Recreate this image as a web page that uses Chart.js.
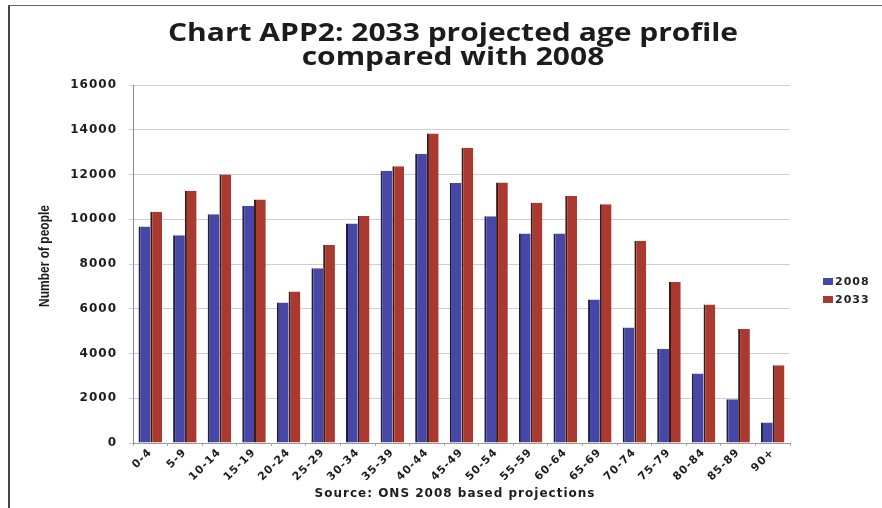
<!DOCTYPE html>
<html>
<head>
<meta charset="utf-8">
<script src="https://cdn.jsdelivr.net/npm/chart.js@4"></script>
<style>
  body { margin: 0; background: #fff; }
  #wrap { position: relative; width: 882px; height: 508px; }
  #frame { position: absolute; left: 8px; top: 5px; width: 872px; height: 510px;
           border-left: 2px solid #444; border-top: 1px solid #666; border-right: 1px solid #888; }
  canvas { position: absolute; left: 0; top: 0; }
</style>
</head>
<body>
<div id="wrap">
  <div id="frame"></div>
  <canvas id="chart" width="882" height="508"></canvas>
</div>
<script>
// age bands and populations
const ageBands = ['0-4', '5-9', '10-14', '15-19', '20-24', '25-29', '30-34', '35-39', '40-44', '45-49',
  '50-54', '55-59', '60-64', '65-69', '70-74', '75-79', '80-84', '85-89', '90+'];
const pop2008 = [9680, 9290, 10220, 10600, 6280, 7810, 9810, 12170, 12930, 11620,
  10130, 9360, 9360, 6410, 5160, 4210, 3110, 1960, 920];
const pop2033 = [10330, 11270, 12000, 10880, 6770, 8850, 10150, 12370, 13830, 13200,
  11640, 10740, 11040, 10670, 9030, 7200, 6190, 5100, 3470];
const yTicks = [0, 2000, 4000, 6000, 8000, 10000, 12000, 14000, 16000];

const titleLines = ['Chart APP2: 2033 projected age profile', 'compared with 2008'];
const yTitle = 'Number of people';
const sourceNote = 'Source: ONS 2008 based projections';

const tickFont = 'DejaVu Sans';

// slightly wide letters like the scanned original
const spacing = {
  id: 'spacing',
  beforeLayout(chart) { chart.ctx.letterSpacing = '1px'; }
};

// title, axis title, source line and legend drawn by hand
const decorations = {
  id: 'decorations',
  afterDraw(chart) {
    const ctx = chart.ctx;
    const area = chart.chartArea;

    ctx.save();
    ctx.letterSpacing = '0px';
    ctx.fillStyle = '#1c1c1c';
    ctx.textAlign = 'center';
    ctx.textBaseline = 'middle';
    ctx.font = 'bold 25px "Open Sans"';
    titleLines.forEach((t, i) => {
      ctx.save();
      ctx.translate(453, 34 + i * 24);
      ctx.scale(1.2, 1);
      ctx.fillText(t, 0, 0);
      ctx.restore();
    });

    // y axis title
    ctx.save();
    ctx.translate(45, (area.top + area.bottom) / 2 - 8);
    ctx.rotate(-Math.PI / 2);
    ctx.scale(0.8, 1);
    ctx.font = 'bold 15px "Liberation Sans"';
    ctx.fillText(yTitle, 0, 0);
    ctx.restore();

    // source line
    ctx.letterSpacing = '1px';
    ctx.font = 'bold 12px "' + tickFont + '"';
    ctx.fillText(sourceNote, 455, 494);

    // legend
    ctx.textAlign = 'left';
    ctx.font = 'bold 11px "' + tickFont + '"';
    chart.data.datasets.forEach((ds, i) => {
      const y = 281 + i * 18;
      ctx.fillStyle = ds.backgroundColor;
      ctx.fillRect(823, y - 3, 10, 7);
      ctx.fillStyle = '#222';
      ctx.fillText(ds.label, 835, y + 1);
    });
    ctx.restore();
  }
};

new Chart(document.getElementById('chart'), {
  type: 'bar',
  data: {
    labels: ageBands,
    datasets: [
      { label: '2008', data: pop2008, backgroundColor: '#4747a8', borderColor: '#1e1e44',
        borderWidth: { left: 2, right: 0, top: 0, bottom: 0 }, borderSkipped: false },
      { label: '2033', data: pop2033, backgroundColor: '#aa392f', borderColor: '#3a1a16',
        borderWidth: { left: 2, right: 0, top: 0, bottom: 0 }, borderSkipped: false }
    ]
  },
  options: {
    responsive: false,
    animation: false,
    layout: { padding: { left: 0, right: 92, top: 85, bottom: 0 } },
    categoryPercentage: 0.68,
    barPercentage: 1.0,
    plugins: {
      legend: { display: false },
      tooltip: { enabled: false },
      title: { display: false }
    },
    scales: {
      x: {
        afterFit(scale) { scale.height = 65; },
        grid: { display: true, drawOnChartArea: false, drawTicks: true, tickLength: 3, color: '#aaa' },
        border: { color: '#999' },
        ticks: { color: '#1c1c1c', padding: 0, maxRotation: 45, minRotation: 45,
          font: { family: tickFont, size: 11, weight: 'bold' } }
      },
      y: {
        min: 0, max: 16000,
        afterBuildTicks(scale) { scale.ticks = yTicks.map(v => ({ value: v })); },
        afterFit(scale) { scale.width = 133; },
        grid: { color: '#cfcfcf', drawTicks: true, tickLength: 4 },
        border: { color: '#888' },
        ticks: { color: '#1c1c1c', padding: 12, callback: v => String(v),
          font: { family: tickFont, size: 12, weight: 'bold' } }
      }
    }
  },
  plugins: [spacing, decorations]
});
</script>
</body>
</html>
